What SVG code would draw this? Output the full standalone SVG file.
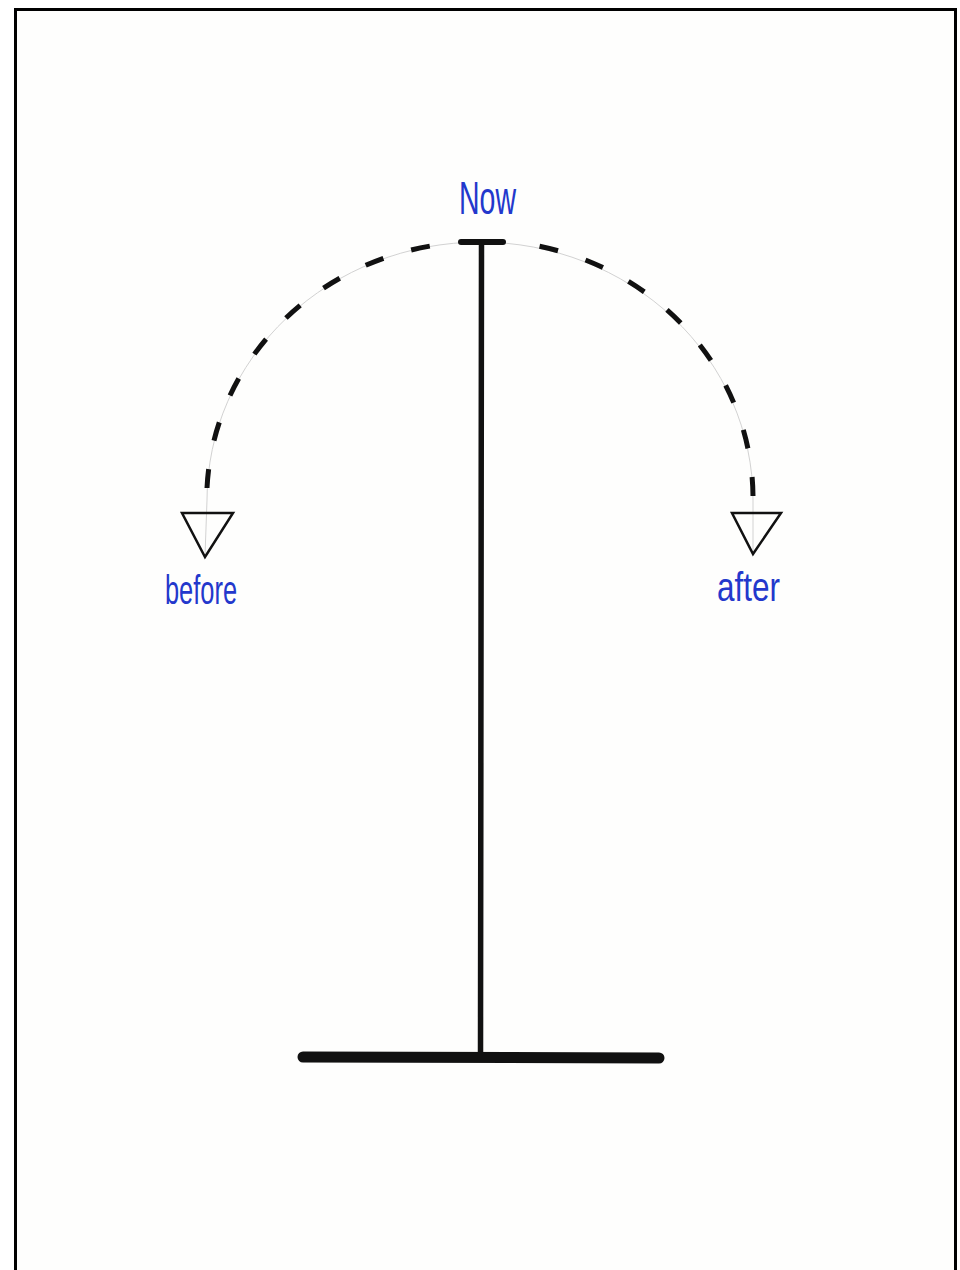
<svg xmlns="http://www.w3.org/2000/svg" width="960" height="1270" viewBox="0 0 960 1270">
<style>
.lbl{fill:#2338cc;font-family:"Liberation Sans Narrow","Liberation Sans",sans-serif}
.tri{fill:none;stroke:#111;stroke-width:2.5;stroke-linejoin:miter}
.guide{fill:none;stroke:#d2d2d2;stroke-width:1}
.dash{fill:none;stroke:#111;stroke-width:5;stroke-dasharray:19 29}
.bar{stroke:#111;stroke-linecap:round}
</style>
<rect x="0" y="0" width="960" height="1270" fill="#ffffff"/>
<rect x="15.5" y="9.5" width="940" height="1262" fill="#fefefd" stroke="#000" stroke-width="3"/>
<g id="connectors">
  <path class="guide" d="M207,500 A273,258 0 0 1 753,500"/>
  <line class="guide" x1="207" y1="500" x2="205" y2="556"/>
  <line class="guide" x1="753" y1="500" x2="753" y2="553"/>
  <path class="dash" d="M207,488 A273,258 0 0 1 440,244.5"/>
  <path class="dash" d="M753,496 A273,258 0 0 0 525,243.5"/>
</g>
<g id="stand">
  <line class="bar" x1="481.5" y1="243" x2="480.5" y2="1056" stroke-width="5.5" stroke-linecap="butt"/>
  <line class="bar" x1="461" y1="242" x2="503" y2="242" stroke-width="6"/>
  <line class="bar" x1="303" y1="1057" x2="659" y2="1058" stroke-width="11"/>
</g>
<g id="now">
  <text class="lbl" x="459" y="214" font-size="46" textLength="57" lengthAdjust="spacingAndGlyphs">Now</text>
</g>
<g id="before">
  <path class="tri" d="M182,513 L233,513 L205,557 Z"/>
  <text class="lbl" x="165" y="604" font-size="40" textLength="72" lengthAdjust="spacingAndGlyphs">before</text>
</g>
<g id="after">
  <path class="tri" d="M732,513 L781,513 L753,554 Z"/>
  <text class="lbl" x="717" y="601" font-size="40" textLength="63" lengthAdjust="spacingAndGlyphs">after</text>
</g>
</svg>
